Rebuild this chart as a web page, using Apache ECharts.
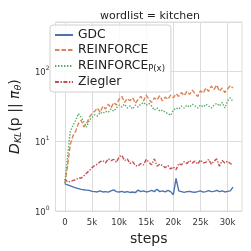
<!DOCTYPE html>
<html><head><meta charset="utf-8">
<script src="https://cdn.jsdelivr.net/npm/echarts@6/dist/echarts.min.js"></script>
<style>html,body{margin:0;padding:0;background:#fff}#c{width:251px;height:251px}</style>
</head><body><div id="c"></div>
<script>
const steps = [0,500,1000,1500,2000,2500,3000,3500,4000,4500,5000,5500,6000,6500,7000,7500,8000,8500,9000,9500,10000,10500,11000,11500,12000,12500,13000,13500,14000,14500,15000,15500,16000,16500,17000,17500,18000,18500,19000,19500,20000,20500,21000,21500,22000,22500,23000,23500,24000,24500,25000,25500,26000,26500,27000,27500,28000,28500,29000,29500,30000,30500,31000];
const gdc = [2.45,2.38,2.3,2.22,2.15,2.1,2.05,2.02,2.0,1.98,1.92,1.9,1.88,1.95,1.88,1.9,1.87,1.95,2.02,1.9,1.88,1.92,1.86,1.9,1.85,1.88,1.84,2.0,1.9,1.95,1.88,1.92,1.98,1.9,2.05,1.9,1.95,1.88,1.98,1.9,1.72,2.95,1.95,1.9,1.85,1.9,1.92,1.88,1.86,1.9,1.95,1.87,1.9,1.96,1.9,1.92,1.98,1.9,1.95,1.88,1.92,1.95,2.2];
const reinforce = [2.5,4.5,9,12,14,18,20,16,18,22,25,27,30,26,32,29,34,30,36,33,40,44,36,41,38,42,35,40,44,38,46,40,36,42,39,45,38,43,40,46,42,48,44,50,45,52,47,54,48,44,53,49,58,52,62,55,64,52,58,50,56,63,58];
const reinforcePx = [2.5,6,14,17,20,25,22,19,16,20,22,24,23,26,25,27,26,29,27,30,33,31,34,30,32,29,33,31,34,36,33,35,32,28,30,27,28,26,25,23.5,28,30,29,32,30,33,31,34,32,30,33,31,34,32,30,33,35,32,36,30,38,42,37];
const ziegler = [2.9,2.6,2.65,2.75,2.8,3.0,2.95,3.2,3.5,3.8,4.2,4.5,4.7,5.1,5.3,4.9,5.6,5.3,5.5,5.0,6.0,6.3,5.3,5.6,4.8,5.1,4.5,4.4,4.8,4.6,5.5,5.0,4.6,5.6,4.4,4.7,4.5,4.2,4.5,4.0,4.3,3.9,4.8,4.6,5.1,4.8,5.3,4.9,5.2,4.7,5.4,4.9,5.0,5.5,4.7,5.2,5.6,4.4,5.3,4.9,5.2,4.8,4.6];
const xTicks = [0,5000,10000,15000,20000,25000,30000];
const xTickLabels = ['0','5k','10k','15k','20k','25k','30k'];

const pair = arr => steps.map((s,i)=>[s,arr[i]]);
const FONT = 'DejaVu Sans';
const gridColor = '#dcdcdc';
const chart = echarts.init(document.getElementById('c'), null, {renderer:'canvas'});
const mk = (name, data, color, type) => ({
  name, type:'line', data: pair(data), symbol:'none', smooth:false,
  lineStyle:{color, width:1.4, type}, itemStyle:{color}, z: 3
});
chart.setOption({
  animation:false,
  textStyle:{fontFamily:FONT},
  title:{text:'wordlist = kitchen', left:145, textAlign:'center', top:6,
    textStyle:{fontFamily:FONT, fontSize:11, fontWeight:'normal', color:'#222'}},
  grid:{left:48, right:9, top:22, bottom:39, show:true, borderColor:gridColor, borderWidth:1, backgroundColor:'#fff'},
  xAxis:{type:'value', min:-1720, max:32660,
    name:'steps', nameLocation:'middle', nameGap:17,
    nameTextStyle:{fontFamily:FONT, fontSize:14, color:'#222'},
    axisLine:{show:false}, axisTick:{show:false, customValues:xTicks},
    axisLabel:{customValues:xTicks, fontFamily:FONT, fontSize:8.5, color:'#333', margin:7,
      formatter:v=>xTickLabels[xTicks.indexOf(v)] ?? ''},
    splitLine:{show:true, customValues:xTicks, lineStyle:{color:gridColor, width:1}}
  },
  yAxis:{type:'log', logBase:10, min:1, max:512,
    name:'{d|D}{s|KL}{n|(p || }{d|π}{s|θ}{n|)}', nameLocation:'middle', nameGap:20, nameRotate:90,
    nameTextStyle:{fontFamily:FONT, fontSize:14, color:'#222',
      rich:{
        d:{fontFamily:FONT, fontSize:14, fontStyle:'italic', color:'#222', lineHeight:18, verticalAlign:'middle'},
        n:{fontFamily:FONT, fontSize:14, color:'#222', lineHeight:18, verticalAlign:'middle'},
        s:{fontFamily:FONT, fontSize:9.5, fontStyle:'italic', color:'#222', lineHeight:18, verticalAlign:'bottom', padding:[6,0,0,0]}
      }},
    axisLine:{show:false}, axisTick:{show:false},
    axisLabel:{fontFamily:FONT, color:'#333', margin:6,
      formatter:v=>{const e=Math.round(Math.log10(v)); return Math.abs(Math.log10(v)-e)<1e-6 ? '{b|10}{e|'+e+'}' : '';},
      rich:{b:{fontSize:8.5, color:'#333', fontFamily:FONT, verticalAlign:'bottom', lineHeight:12},
            e:{fontSize:6, color:'#333', fontFamily:FONT, verticalAlign:'top', lineHeight:12, padding:[0,0,5,0]}}},
    splitLine:{show:true, lineStyle:{color:gridColor, width:1}},
    minorTick:{show:false}, minorSplitLine:{show:false}
  },
  legend:{orient:'vertical', left:50, top:25, itemWidth:18, itemHeight:10, itemGap:3,
    padding:[4,6,4,4], backgroundColor:'rgba(255,255,255,0.85)', borderColor:'#d0d0d0', borderWidth:1, borderRadius:3,
    itemStyle:{opacity:0},
    data:['GDC','REINFORCE','REINFORCE_Px','Ziegler'],
    textStyle:{fontFamily:FONT, fontSize:12.3, color:'#222', padding:[0,0,0,0],
      rich:{a:{fontFamily:FONT, fontSize:12.3, color:'#222', verticalAlign:'middle', lineHeight:14},
            s:{fontFamily:FONT, fontSize:8.5, color:'#222', verticalAlign:'bottom', lineHeight:14, padding:[5,0,0,0]}}},
    formatter:n=> n==='REINFORCE_Px' ? '{a|REINFORCE}{s|P(x)}' : n
  },
  series:[
    mk('GDC', gdc, '#4c72b0', 'solid'),
    mk('REINFORCE', reinforce, '#dd8452', [4.5,2]),
    mk('REINFORCE_Px', reinforcePx, '#55a868', [1.4,1.6]),
    mk('Ziegler', ziegler, '#c44e52', [4,1.5,1.4,1.5])
  ]
});
</script></body></html>
